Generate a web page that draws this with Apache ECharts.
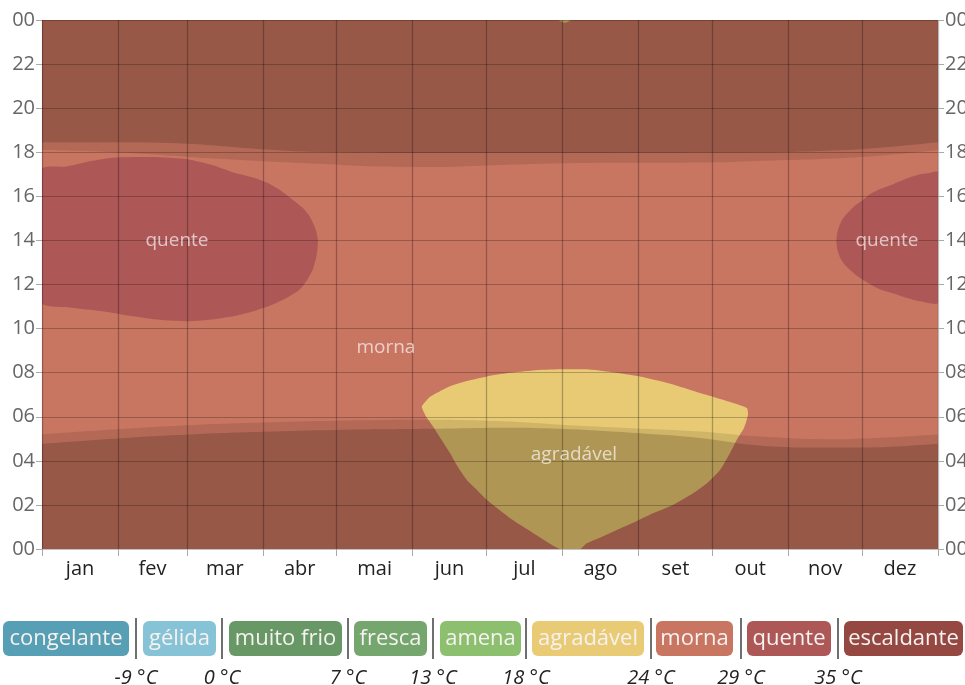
<!DOCTYPE html>
<html><head><meta charset="utf-8">
<script src="https://cdn.jsdelivr.net/npm/echarts@6/dist/echarts.min.js"></script>
<style>html,body{margin:0;padding:0;background:#fff}#c{width:965px;height:685px}</style>
</head><body><div id="c"></div>
<script>
// ---------- data ----------
const months = ['jan','fev','mar','abr','mai','jun','jul','ago','set','out','nov','dez'];
const monthStarts = [0,31,59,90,120,151,181,212,243,273,304,334,365];
const hourLabels = ['00','02','04','06','08','10','12','14','16','18','20','22','00'];

// region "quente" (January side) boundary: [day of year, hour]
const quenteJan = [[0,17.23],[10,17.35],[20,17.6],[30,17.76],[45,17.78],[59,17.68],[70,17.4],[78,17.08],[86,16.85],[92,16.6],[98,16.2],[102,15.86],[106,15.5],[109,15.1],[111.5,14.5],[112.4,14.0],[112,13.4],[110.4,12.7],[108,12.2],[105,11.77],[99,11.35],[92,11.0],[85,10.75],[78,10.56],[68,10.4],[59,10.33],[48,10.4],[37,10.56],[24,10.8],[12,10.95],[0,11.17]];
// region "quente" (December side)
const quenteDez = [[365,17.1],[361,17.05],[357.7,17.0],[352,16.8],[346.7,16.55],[342,16.35],[337.3,16.1],[334,15.8],[331,15.56],[328.3,15.25],[326,14.95],[324.3,14.5],[323.6,14.0],[324,13.6],[325.2,13.2],[327,12.9],[329,12.68],[332.5,12.35],[336.5,12.07],[341,11.8],[346.7,11.6],[352,11.4],[357.7,11.24],[365,11.17]];
// region "agradável"
const agradavel = [[154.7,6.47],[158,6.9],[162,7.15],[166.2,7.38],[173,7.62],[181.2,7.83],[190,7.98],[200,8.1],[211,8.15],[221.9,8.15],[232,8.02],[243.6,7.83],[256,7.5],[268.1,7.08],[278,6.75],[287.1,6.4],[287.6,6.1],[286,5.5],[283,4.95],[280,4.3],[276.3,3.6],[271,3.0],[265.2,2.53],[257,2.0],[248.9,1.62],[241,1.2],[234.1,0.86],[228,0.55],[221.9,0.26],[219.2,0],[211,0],[205.6,0.33],[199,0.8],[191.9,1.3],[186,1.8],[181.2,2.23],[177,2.7],[173,3.14],[169,3.8],[166.2,4.35],[162.5,5.0],[159.3,5.56],[156.5,6.0],[155.2,6.3]];
const agradavelTop = [[210.5,24],[215.5,24],[213,23.87]];

// daylight boundaries: [day, hour]
const sunrise = [[0,5.2],[32,5.44],[60,5.62],[90,5.74],[120,5.82],[158,5.86],[190,5.78],[211,5.64],[240,5.48],[268,5.33],[292,5.1],[320,4.98],[340,5.04],[365,5.2]];
const dawn = [[0,4.77],[32,5.03],[60,5.2],[90,5.32],[120,5.4],[158,5.45],[190,5.5],[211,5.45],[240,5.27],[268,5.04],[292,4.7],[320,4.6],[340,4.62],[365,4.78]];
const sunset = [[0,18.1],[30,18.0],[59,17.8],[89,17.6],[117,17.45],[135,17.35],[160,17.33],[181,17.4],[213,17.5],[268,17.53],[292,17.6],[333,17.78],[365,18.1]];
const dusk = [[0,18.45],[30,18.45],[59,18.38],[89,18.14],[117,18.0],[150,17.97],[200,17.97],[250,17.98],[292,18.0],[333,18.14],[365,18.45]];

const regionLabels = [[55,14,'quente'],[344.2,14,'quente'],[140.1,9.14,'morna'],[216.7,4.27,'agradável']];

const legendNames = ['congelante','gélida','muito frio','fresca','amena','agradável','morna','quente','escaldante'];
const legendLimits = ['-9 °C','0 °C','7 °C','13 °C','18 °C','24 °C','29 °C','35 °C'];

// ---------- styles / layout ----------
const FONT = '"Open Sans", "Noto Sans", sans-serif';
const legendColors = ['#579fb4','#86c3d6','#689866','#74a66e','#8cc06f','#e8cb74','#c87561','#ae5757','#954842'];
const boxEdges = [[3,129],[143,216],[229,342],[354,427],[440,521],[532,644],[656,733],[747,831],[844,963]];
const sepX = [136,222,348,433,526,651,741,838];
const C_MORNA = '#c87561', C_QUENTE = '#ae5757', C_AGRAD = '#e8ca74';

const monthMids = months.map((m,i)=>(monthStarts[i]+monthStarts[i+1])/2);

function polySeries(points, color){
  return {
    type:'custom', clip:true, silent:true, z:2,
    data:[points[0]],
    renderItem:function(params, api){
      return {type:'polygon', shape:{points: points.map(p=>api.coord(p)), smooth:0.2}, style:{fill:color}};
    }
  };
}
function nightSeries(points, origin, alpha){
  return {
    type:'line', data:points, smooth:0.4, showSymbol:false, silent:true, z:3,
    lineStyle:{width:0}, areaStyle:{origin:origin, color:'rgba(20,5,0,'+alpha+')', opacity:1}
  };
}

const graphic = [];
legendNames.forEach((n,i)=>{
  const [a,b] = boxEdges[i];
  graphic.push({type:'rect', shape:{x:a, y:621, width:b-a, height:35, r:6}, style:{fill:legendColors[i]}});
  graphic.push({type:'text', x:(a+b)/2, y:639, style:{text:n, fill:'#f6f2f0', font:'22px '+FONT, align:'center', verticalAlign:'middle', textAlign:'center', textVerticalAlign:'middle'}});
});
sepX.forEach((x,i)=>{
  graphic.push({type:'line', shape:{x1:x, y1:618, x2:x, y2:659}, style:{stroke:'#6f6f6f', lineWidth:2}});
  graphic.push({type:'text', x:x, y:678, style:{text:legendLimits[i], fill:'#222', font:'italic 20px '+FONT, align:'center', verticalAlign:'middle', textAlign:'center', textVerticalAlign:'middle'}});
});

const yAxisBase = {
  type:'value', min:0, max:24, interval:2, z:10,
  axisLine:{show:false},
  axisTick:{show:true, length:6, lineStyle:{color:'#aaa'}},
  axisLabel:{formatter:v=>hourLabels[Math.round(v/2)], color:'#666', fontSize:20, fontFamily:FONT, margin:7, showMinLabel:true, showMaxLabel:true}
};

const option = {
  animation:false,
  grid:{left:42, right:27, top:20, bottom:136, show:true, backgroundColor:C_MORNA, borderWidth:0, containLabel:false, outerBoundsMode:'none'},
  xAxis:{
    type:'value', min:0, max:365, z:10,
    axisLine:{show:false},
    axisTick:{show:true, customValues:monthStarts, length:7, lineStyle:{color:'#aaa'}},
    axisLabel:{customValues:monthMids, formatter:v=>months[monthMids.indexOf(v)], color:'#222', fontSize:20, fontFamily:FONT, margin:10},
    splitLine:{show:true, lineStyle:{color:'rgba(0,0,0,0.27)', width:1.3}}
  },
  yAxis:[
    Object.assign({}, yAxisBase, {position:'left', splitLine:{show:true, lineStyle:{color:'rgba(0,0,0,0.24)', width:1.2}}}),
    Object.assign({}, yAxisBase, {position:'right', splitLine:{show:false}})
  ],
  series:[
    polySeries(quenteJan, C_QUENTE),
    polySeries(quenteDez, C_QUENTE),
    polySeries(agradavel, C_AGRAD),
    polySeries(agradavelTop, C_AGRAD),
    nightSeries(sunrise,'start',0.11),
    nightSeries(dawn,'start',0.17),
    nightSeries(sunset,'end',0.11),
    nightSeries(dusk,'end',0.17),
    {type:'scatter', data:regionLabels, symbolSize:0, z:20, silent:true,
     label:{show:true, position:'inside', formatter:p=>p.value[2], color:'rgba(255,255,255,0.82)', fontSize:19, fontFamily:FONT}}
  ],
  graphic:graphic
};
const chart = echarts.init(document.getElementById('c'), null, {renderer:'canvas'});
chart.setOption(option);
</script></body></html>
